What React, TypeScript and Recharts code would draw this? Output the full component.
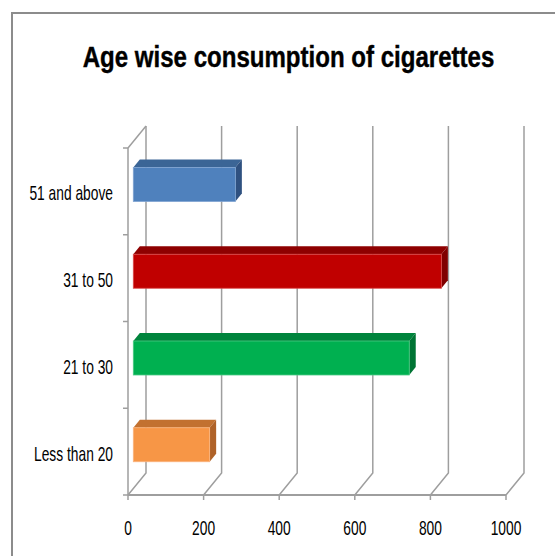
import { Bar, BarChart, CartesianGrid, Cell, XAxis, YAxis } from "recharts";

// Chart data (top to bottom, as the bars are stacked on screen)
const AGE_GROUPS = ["51 and above", "31 to 50", "21 to 30", "Less than 20"];
const SMOKERS = [270, 815, 730, 202];
const X_TICKS = [0, 200, 400, 600, 800, 1000];

// Front / top / side shades for each bar
const FRONT_COLORS = ["#4F81BD", "#C00000", "#00B050", "#F79646"];
const TOP_COLORS = ["#3B6596", "#8E0000", "#00843C", "#C27130"];
const SIDE_COLORS = ["#2F5180", "#7F0000", "#007434", "#AF6228"];
const EDGE_COLORS = ["#7FA3D1", "#D94A4A", "#4CCB84", "#FAB47E"];

const data = AGE_GROUPS.map((name, i) => ({ name, value: SMOKERS[i] }));

const WIDTH = 555;
const HEIGHT = 556;
const PLOT_TOP = 148;
const PLOT_BOTTOM = 495;
const PLOT_LEFT = 128;
const PLOT_RIGHT = 506;
const BAND = (PLOT_BOTTOM - PLOT_TOP) / AGE_GROUPS.length;

// depth of the 3d walls and of the bars
const WALL_DX = 18;
const WALL_DY = -22;
const FACE_DX = 5.3;
const FACE_DY = -6.5;
const BAR_DX = 6.5;
const BAR_DY = -8;

const GRID = "#9E9E9E";
const FONT = "'Liberation Sans', Arial, sans-serif";
// squeeze labels horizontally to get the narrow look
const TEXT_SCALE = 0.69;

function Bar3D(props: any) {
    const { x, y, width, height, index } = props;
    if (!width) return null;
    const fx = x + FACE_DX;
    const fy = y + FACE_DY;
    const rx = fx + width;
    return (
        <g>
            <polygon
                points={`${fx},${fy} ${fx + BAR_DX},${fy + BAR_DY} ${rx + BAR_DX},${fy + BAR_DY} ${rx},${fy}`}
                fill={TOP_COLORS[index]}
            />
            <polygon
                points={`${rx},${fy} ${rx + BAR_DX},${fy + BAR_DY} ${rx + BAR_DX},${fy + height + BAR_DY} ${rx},${fy + height}`}
                fill={SIDE_COLORS[index]}
            />
            <rect x={fx} y={fy} width={width} height={height} fill={FRONT_COLORS[index]} stroke={EDGE_COLORS[index]} strokeWidth={0.8} />
        </g>
    );
}

// vertical gridlines run along the floor, then up the back wall
function GridLine(props: any) {
    const { x1, y1, y2, index } = props;
    return (
        <g key={`grid-${index}`}>
            <path
                d={`M${x1},${y2} L${x1 + WALL_DX},${y2 + WALL_DY} L${x1 + WALL_DX},${y1 + WALL_DY}`}
                stroke={GRID}
                strokeWidth={1.5}
                fill="none"
            />
            {index === 0 && (
                <line x1={x1} y1={y1} x2={x1 + WALL_DX} y2={y1 + WALL_DY} stroke={GRID} strokeWidth={1.5} />
            )}
        </g>
    );
}

function AgeTick(props: any) {
    const { y, payload, index } = props;
    const tx = PLOT_LEFT - 15;
    const ty = y + 9;
    return (
        <g>
            <text
                transform={`translate(${tx},${ty}) scale(${TEXT_SCALE},1)`}
                textAnchor="end"
                fontFamily={FONT}
                fontSize={20}
                fill="#000"
            >
                {payload.value}
            </text>
            {index === 0 && (
                <line x1={PLOT_LEFT - 5} x2={PLOT_LEFT} y1={y - BAND / 2} y2={y - BAND / 2} stroke={GRID} strokeWidth={1.5} />
            )}
            <line x1={PLOT_LEFT - 5} x2={PLOT_LEFT} y1={y + BAND / 2} y2={y + BAND / 2} stroke={GRID} strokeWidth={1.5} />
        </g>
    );
}

function ValueTick(props: any) {
    const { x, payload } = props;
    return (
        <text
            transform={`translate(${x},${PLOT_BOTTOM + 40}) scale(${TEXT_SCALE},1)`}
            textAnchor="middle"
            fontFamily={FONT}
            fontSize={20}
            fill="#000"
        >
            {payload.value}
        </text>
    );
}

export default function App() {
    return (
        <div style={{ position: "absolute", left: 0, top: 0, width: WIDTH, height: HEIGHT, overflow: "hidden", background: "#fff" }}>
            <div
                style={{
                    position: "absolute",
                    left: 11,
                    top: 12,
                    width: 700,
                    height: 700,
                    borderLeft: "2px solid #8C8C8C",
                    borderTop: "2px solid #8C8C8C",
                }}
            />
            <div style={{ position: "absolute", left: 0, top: 0 }}>
                <BarChart
                    width={WIDTH}
                    height={HEIGHT}
                    data={data}
                    layout="vertical"
                    barSize={34}
                    margin={{ top: PLOT_TOP, right: WIDTH - PLOT_RIGHT, bottom: 0, left: 0 }}
                >
                    <CartesianGrid horizontal={false} vertical={GridLine} />
                    <XAxis
                        type="number"
                        domain={[0, 1000]}
                        ticks={X_TICKS}
                        height={HEIGHT - PLOT_BOTTOM}
                        axisLine={{ stroke: GRID, strokeWidth: 2 }}
                        tickLine={{ stroke: GRID, strokeWidth: 1.5 }}
                        tickSize={5}
                        tick={ValueTick}
                        interval={0}
                    />
                    <YAxis
                        type="category"
                        dataKey="name"
                        width={PLOT_LEFT}
                        axisLine={{ stroke: GRID, strokeWidth: 1.5 }}
                        tickLine={false}
                        tick={AgeTick}
                        interval={0}
                    />
                    <Bar dataKey="value" shape={Bar3D} isAnimationActive={false}>
                        {data.map((entry, index) => (
                            <Cell key={`cell-${index}`} fill={FRONT_COLORS[index]} />
                        ))}
                    </Bar>
                </BarChart>
            </div>
            <svg width={WIDTH} height={110} style={{ position: "absolute", left: 0, top: 0 }}>
                <text
                    transform={`translate(288.5,67) scale(0.83,1)`}
                    textAnchor="middle"
                    fontFamily={FONT}
                    fontWeight="bold"
                    fontSize={29}
                    stroke="#000"
                    strokeWidth={0.4}
                    fill="#000"
                >
                    Age wise consumption of cigarettes
                </text>
            </svg>
        </div>
    );
}
